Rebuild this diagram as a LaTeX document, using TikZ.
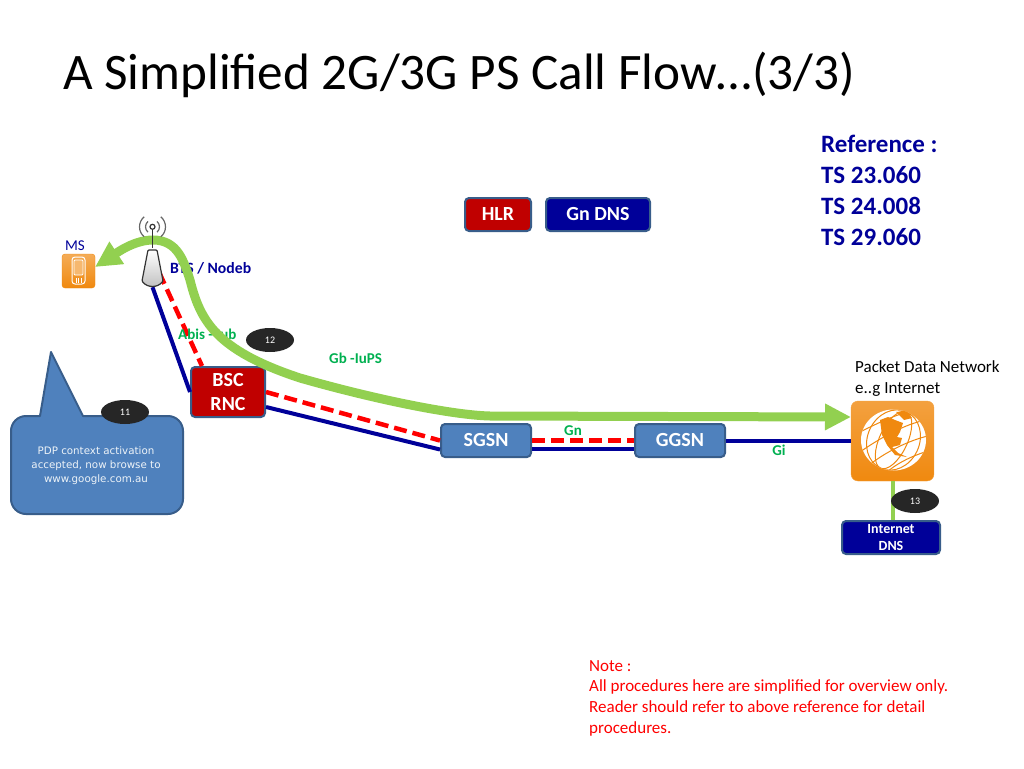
\documentclass[tikz,border=0pt]{standalone}
\usepackage{fontspec}
\setmainfont{Carlito}
\newfontfamily\calloutfont{DejaVu Sans}
\usepackage{xcolor}
\usetikzlibrary{arrows.meta,shapes.geometric,calc}
\definecolor{navyline}{HTML}{000099}
\definecolor{darkred}{HTML}{C00000}
\definecolor{boxblue}{HTML}{4F81BD}
\definecolor{boxedge}{HTML}{385D8A}
\definecolor{flowgreen}{HTML}{92D050}
\definecolor{labelgreen}{HTML}{00B050}
\definecolor{iconorange}{HTML}{F0890F}
\definecolor{badgegray}{HTML}{262626}
\tikzset{
  netbox/.style={draw=boxedge,line width=2pt,rounded corners=4pt,text=white,inner sep=0pt,align=center,font=\fontsize{20}{24}\selectfont\bfseries},
  badge/.style={ellipse,fill=badgegray,text=white,minimum width=48pt,minimum height=24pt,inner sep=0pt,font=\fontsize{10}{12}\selectfont},
  iflabel/.style={text=labelgreen,inner sep=0pt,font=\fontsize{15}{17}\selectfont\bfseries},
  bluelink/.style={draw=navyline,line width=4pt},
  redlink/.style={draw=red,line width=4.5pt,dash pattern=on 13pt off 6pt},
  flowlink/.style={draw=flowgreen,line width=9pt},
}
\begin{document}
\begin{tikzpicture}[x=1pt,y=-1pt]
  \useasboundingbox (0,0) rectangle (1024,768);

  % Title and side texts
  \node[anchor=west,inner sep=0pt,font=\fontsize{51.2}{54}\selectfont] (title) at (63,75) {A Simplified 2G/3G PS Call Flow…(3/3)};
  \node[anchor=north west,inner sep=0pt,align=left,text=navyline,font=\fontsize{25}{31}\selectfont\bfseries] (refs) at (821,135) {Reference :\\TS 23.060\\TS 24.008\\TS 29.060};
  \node[anchor=north west,inner sep=0pt,align=left,text=red,font=\fontsize{17}{20.7}\selectfont] (note) at (589,660) {Note :\\All procedures here are simplified for overview only.\\Reader should refer to above reference for detail\\procedures.};

  % Network elements
  \node[netbox,fill=darkred,minimum width=66pt,minimum height=33pt] (hlr) at (498,214.5) {\raisebox{-1pt}{HLR}};
  \node[netbox,fill=navyline,minimum width=104pt,minimum height=33pt] (gndns) at (598,214.5) {\raisebox{-1pt}{Gn DNS}};
  \node[netbox,fill=darkred,minimum width=74pt,minimum height=50pt] (bsc) at (228,392) {\raisebox{-1pt}{BSC}\\\raisebox{-1pt}{RNC}};
  \node[netbox,fill=boxblue,minimum width=90pt,minimum height=33pt] (sgsn) at (486,440.5) {\raisebox{-1pt}{SGSN}};
  \node[netbox,fill=boxblue,minimum width=90pt,minimum height=33pt] (ggsn) at (680,440.5) {\raisebox{-1pt}{GGSN}};
  \node[netbox,fill=navyline,minimum width=98pt,minimum height=33pt,font=\fontsize{14}{17}\selectfont\bfseries] (dns) at (891,537.5) {Internet\\DNS};
  \node[minimum width=21pt,minimum height=39pt,inner sep=0pt] (bts) at (152.5,267.5) {};
  \node[minimum width=33pt,minimum height=34pt,inner sep=0pt,rounded corners=3pt,top color=iconorange!70!white,bottom color=iconorange,draw=iconorange] (ms) at (78.5,271) {};
  \node[minimum width=83pt,minimum height=80pt,inner sep=0pt,rounded corners=7pt,top color=iconorange!80!white,bottom color=iconorange,draw=iconorange!80!white] (pdn) at (892.5,441) {};

  % Phone icon
  \draw[white,line width=1pt,rounded corners=3pt] (72,257) rectangle (85,284);
  \draw[white,line width=0.8pt,rounded corners=1pt,fill=iconorange!60!white] (74,260) rectangle (83,275);
  \draw[white,line width=0.7pt] (76,278) -- (76,283) (78.5,278) -- (78.5,283) (81,278) -- (81,283);

  % Globe icon
  \coordinate (globe) at (893.5,440);
  \fill[white] (globe) ellipse (32.5pt and 30.5pt);
  \begin{scope}
    \clip (globe) ellipse (32.5pt and 30.5pt);
    \draw[iconorange,line width=1pt,rotate around={-25:(globe)}] (globe) ellipse (14pt and 31pt);
    \draw[iconorange,line width=1pt,rotate around={-25:(globe)}] (globe) ellipse (26pt and 31pt);
    \draw[iconorange,line width=1pt] (860,432) .. controls (876,424) and (900,412) .. (918,410);
    \draw[iconorange,line width=1pt] (860,452) .. controls (880,438) and (905,424) .. (926,420);
    \draw[iconorange,line width=1pt] (868,466) .. controls (885,452) and (910,440) .. (928,436);
    \draw[iconorange,line width=1pt] (885,474) .. controls (895,464) and (912,456) .. (925,452);
    \fill[iconorange] (880,420) -- (888,417) -- (895,420) -- (903,423) -- (900,432) -- (897,437) -- (902,438) -- (900,445) -- (892,447) -- (898,453) -- (907,457) -- (895,455) -- (887,445) -- (882,435) -- cycle;
    \fill[iconorange] (896,412) -- (906,411) -- (912,418) -- (904,420) -- cycle;
  \end{scope}

  % Callout
  \draw[fill=boxblue,draw=boxedge,line width=2pt,line join=round] (11,470) [rounded corners=15pt] -- (11,416) [sharp corners] -- (40,416) -- (51,352) -- (83,416) [rounded corners=15pt] -- (183,416) -- (183,514) -- (11,514) -- cycle;
  \node[text=white!90!boxblue,align=center,inner sep=0pt,font=\calloutfont\fontsize{10.3}{14}\selectfont] (callout) at (96,466) {PDP context activation\\accepted, now browse to\\www.google.com.au};

  % Draw links
  \coordinate (btsred) at (159,272);
  \draw[bluelink] (bts.south) -- (bsc.west);
  \draw[bluelink] ([yshift=-15pt]bsc.east) -- ([yshift=-9pt]sgsn.west);
  \draw[bluelink] ([yshift=-8pt]sgsn.east) -- ([yshift=-8pt]ggsn.west);
  \draw[bluelink] (ggsn.east) -- (ggsn.east -| pdn.west);
  \draw[redlink] (btsred) -- ([xshift=-26pt]bsc.north);
  \draw[redlink] (bsc.east) -- (sgsn.west);
  \draw[redlink] (sgsn.east) -- (ggsn.west);
  \draw[draw=flowgreen,line width=4pt] (pdn.south) -- (pdn.south |- dns.north);

  % Labels
  \node[text=navyline,inner sep=0pt,font=\fontsize{15}{17}\selectfont] (mslabel) at (75,246) {MS};
  \node[anchor=west,text=navyline,inner sep=0pt,font=\fontsize{15.7}{17}\selectfont\bfseries] (btslabel) at (170,268) {BTS / Nodeb};
  \node[iflabel,anchor=west] (abis) at (178,334) {Abis - Iub};
  \node[iflabel,anchor=west] (gb) at (329,358) {Gb -IuPS};
  \node[iflabel] (gn) at (573,431) {Gn};
  \node[iflabel] (gi) at (779,450) {Gi};
  \node[anchor=north west,inner sep=0pt,align=left,font=\fontsize{17}{21}\selectfont] (pdnlabel) at (855,360.5) {Packet Data Network\\e..g Internet};

  % Bearer path
  \coordinate (flowend) at (851,417);
  \draw[flowlink,{Triangle[length=26pt,width=25pt]}-{Triangle[length=26pt,width=25pt]}] (95,267) .. controls (118,252) and (135,240) .. (153,240) .. controls (178,240) and (184,262) .. (190,280) .. controls (200,320) and (215,350) .. (300,378) .. controls (370,398) and (450,415) .. (490,416) -- (flowend);

  % BTS antenna
  \draw[black!80,line width=1.2pt] (bts.north) -- ([yshift=20pt]bts.north);
  \filldraw[fill=white,draw=black!80,line width=1.2pt] ([yshift=21pt]bts.north) circle (2.5pt);
  \draw[top color=white,bottom color=black!25,draw=black!80,line width=1.2pt,rounded corners=1pt] (148,250) -- (157,250) -- (163,281) .. controls (158,288) and (147,288) .. (142,281) -- cycle;
  \foreach \r in {7,13} {
    \draw[black!60,line width=1.2pt] ($(bts.north)+(-\r,-21)$) arc (180:130:\r pt);
    \draw[black!60,line width=1.2pt] ($(bts.north)+(-\r,-21)$) arc (180:230:\r pt);
    \draw[black!60,line width=1.2pt] ($(bts.north)+(\r,-21)$) arc (0:50:\r pt);
    \draw[black!60,line width=1.2pt] ($(bts.north)+(\r,-21)$) arc (0:-50:\r pt);
  }

  % Step badges
  \node[badge] (step11) at (125,412) {11};
  \node[badge] (step12) at (270,340) {12};
  \node[badge] (step13) at (915,501) {13};
\end{tikzpicture}
\end{document}
